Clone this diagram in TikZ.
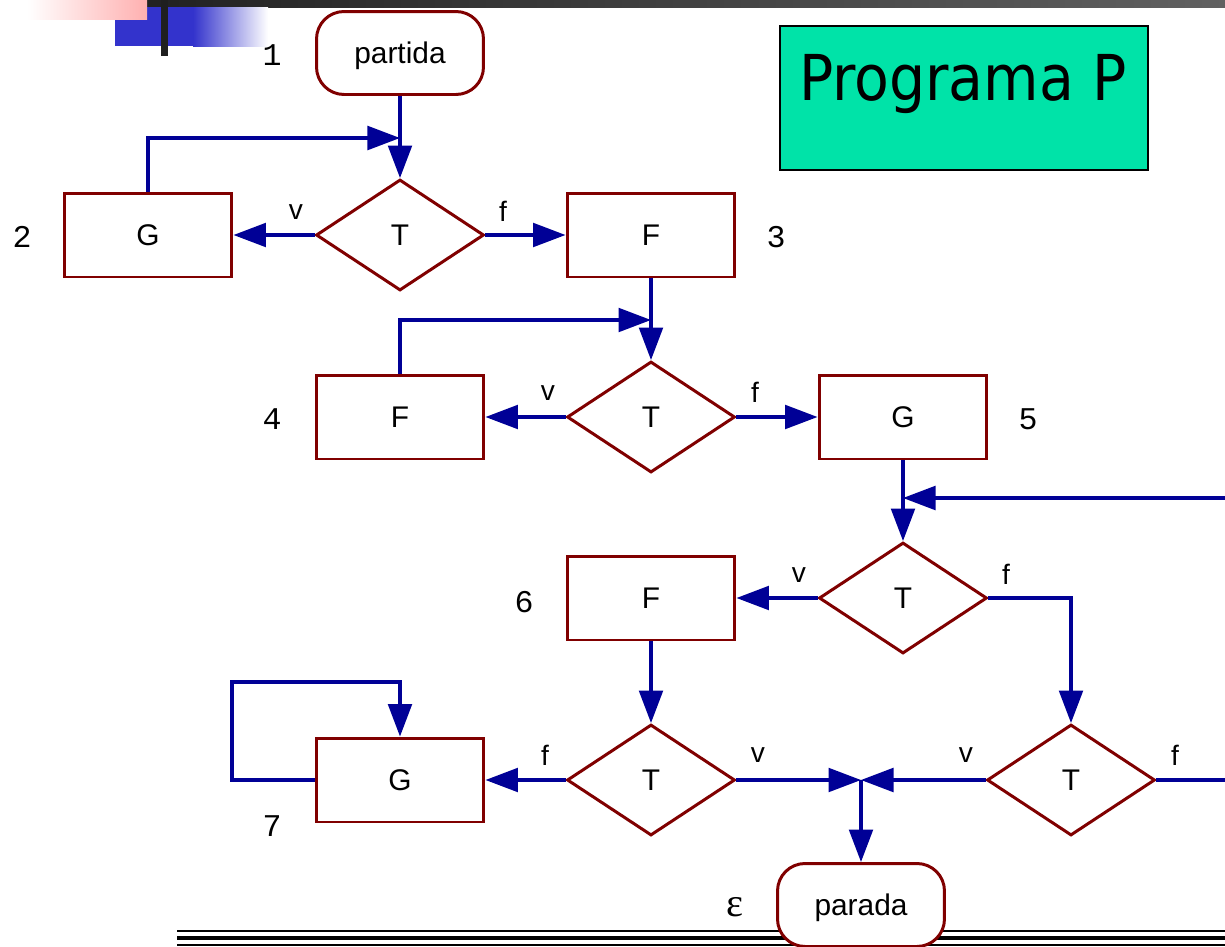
\documentclass[tikz,border=0pt]{standalone}
\usepackage{fontspec}
\setmainfont{Liberation Sans}
\newfontfamily\numfont{Liberation Mono}
\newfontfamily\greekfont{Liberation Serif}
\newfontfamily\titlefont{DejaVu Sans Condensed}
\usetikzlibrary{shapes.geometric,arrows.meta}
\definecolor{boxred}{RGB}{128,0,0}
\definecolor{flowblue}{RGB}{0,0,150}
\definecolor{titlegreen}{RGB}{0,227,168}
\definecolor{decoblue}{RGB}{51,51,204}
\definecolor{decopink}{RGB}{255,176,176}
\begin{document}
\begin{tikzpicture}[x=0.02cm,y=-0.02cm,
  every node/.style={font=\fontsize{17}{18}\selectfont},
  opbox/.style={draw=boxred,line width=1.7pt,fill=white,minimum width=3.36cm,minimum height=1.68cm,inner sep=0pt},
  testbox/.style={diamond,draw=boxred,line width=1.7pt,fill=white,minimum width=3.36cm,minimum height=2.22cm,inner sep=0pt},
  termbox/.style={draw=boxred,line width=1.7pt,fill=white,rounded corners=0.55cm,minimum width=3.34cm,minimum height=1.66cm,inner sep=0pt,text height=16pt,text depth=3.6pt},
  arr/.style={draw=flowblue,line width=1.8pt,-{Triangle[length=18.5pt,width=13.5pt]}},
  flow/.style={draw=flowblue,line width=1.8pt},
  lbl/.style={font=\numfont\fontsize{18}{18}\selectfont},
  branch/.style={font=\fontsize{16}{18}\selectfont}]
\useasboundingbox (0,0) rectangle (1225,947);

% header decoration
\shade[left color=black!88,right color=black!62] (95,0) rectangle (1225,7);
\fill[decoblue] (115,7) rectangle (194,46);
\shade[left color=decoblue,right color=white] (193,7) rectangle (268,46);
\shade[left color=white,right color=decopink] (27,0) rectangle (147,19);
\fill[black!88] (161,0) rectangle (168,56);

% footer rules
\draw[black,line width=1.1pt] (177,931) -- (1225,931);
\draw[black,line width=2.8pt] (177,938) -- (1225,938);
\draw[black,line width=1.1pt] (177,945) -- (1225,945);

% title
\node[draw=black,line width=1.1pt,fill=titlegreen,minimum width=7.36cm,minimum height=2.88cm,inner sep=0pt] (title) at (964,98) {};
\node[anchor=base,font=\titlefont\fontsize{36}{40}\selectfont] (titletext) at (963,100) {Programa P};

% nodes
\node[termbox] (start) at (400,53) {partida};
\node[testbox] (t1) at (400,235) {T};
\node[opbox] (g2) at (148,235) {G};
\node[opbox] (f3) at (651,235) {F};
\node[testbox] (t2) at (651,417) {T};
\node[opbox] (f4) at (400,417) {F};
\node[opbox] (g5) at (903,417) {G};
\node[testbox] (t3) at (903,598) {T};
\node[opbox] (f6) at (651,598) {F};
\node[testbox] (t4) at (651,780) {T};
\node[opbox] (g7) at (400,780) {G};
\node[testbox] (t5) at (1071,780) {T};
\node[termbox] (stop) at (861,905) {parada};

% statement labels
\node[lbl] (n1) at (272,55) {1};
\node[lbl] (n2) at (22,237) {2};
\node[lbl] (n3) at (776,237) {3};
\node[lbl] (n4) at (272,419) {4};
\node[lbl] (n5) at (1028,419) {5};
\node[lbl] (n6) at (524,602) {6};
\node[lbl] (n7) at (272,826) {7};
\node[font=\greekfont\fontsize{23}{24}\selectfont] (neps) at (735,907) {ε};

% branch labels
\node[branch] (v1) at (296,212) {v};
\node[branch] (f1) at (503,211) {f};
\node[branch] (v2) at (548,393) {v};
\node[branch] (f2) at (755,392) {f};
\node[branch] (v3) at (799,575) {v};
\node[branch] (f3l) at (1006,574) {f};
\node[branch] (f4l) at (545,755) {f};
\node[branch] (v4) at (758,755) {v};
\node[branch] (v5) at (966,755) {v};
\node[branch] (f5) at (1175,755) {f};

% junction points
\coordinate (m1) at (400,138);
\coordinate (m2) at (651,320);
\coordinate (m3) at (903,498);
\coordinate (e1) at (1225,498);
\coordinate (e2) at (1225,780);
\coordinate (jn) at (861,780);
\coordinate (l7) at (232,682);

% connectors
\draw[arr] (start.south) -- (t1.north);
\draw[arr] (g2.north) |- (m1);
\draw[arr] (t1.west) -- (g2.east);
\draw[arr] (t1.east) -- (f3.west);
\draw[arr] (f3.south) -- (t2.north);
\draw[arr] (f4.north) |- (m2);
\draw[arr] (t2.west) -- (f4.east);
\draw[arr] (t2.east) -- (g5.west);
\draw[arr] (g5.south) -- (t3.north);
\draw[arr] (e1) -- (m3);
\draw[arr] (t3.west) -- (f6.east);
\draw[arr] (t3.east) -| (t5.north);
\draw[arr] (f6.south) -- (t4.north);
\draw[arr] (t4.west) -- (g7.east);
\draw[arr] (g7.west) -| (l7) -| (g7.north);
\draw[arr] (t4.east) -- (jn);
\draw[arr] (t5.west) -- (jn);
\draw[flow] (t5.east) -- (e2);
\draw[arr] (jn) -- (stop.north);
\end{tikzpicture}
\end{document}
